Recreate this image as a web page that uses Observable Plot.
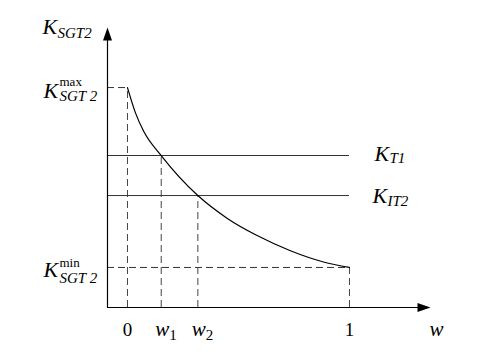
<!DOCTYPE html>
<html>
<head>
<meta charset="utf-8">
<script src="https://cdn.jsdelivr.net/npm/d3@7"></script>
<script src="https://cdn.jsdelivr.net/npm/@observablehq/plot@0.6"></script>
<style>
  html, body { margin: 0; padding: 0; background: #fff; }
  #chart svg { display: block; }
  #chart svg text { font-family: "Liberation Serif", "Times New Roman", "DejaVu Serif", serif !important; }
</style>
</head>
<body>
<div id="chart"></div>
<script>
// ---- data ----
const Kmax = 1.0;
const Kmin = 0.182;
const KT1 = 0.691;
const KIT2 = 0.509;
const w1 = 0.152;
const w2 = 0.317;
const curveW = [0, 0.036, 0.0735, 0.152, 0.317, 0.45, 0.584, 0.734, 0.883, 1.0];
const curveK = [1.0, 0.885, 0.80, 0.691, 0.509, 0.405, 0.327, 0.258, 0.207, 0.182];
const plainTickLabels = ["0", "1"];
const wTickSubs = ["1", "2"];
const xOrigin = -0.09;
const xMax = 1.365;
const yMax = 1.273;

const curve = curveW.map((w, i) => ({w, k: curveK[i]}));
const dropLines = [
  {x: 0, y: Kmax}, {x: w1, y: KT1}, {x: w2, y: KIT2}, {x: 1, y: Kmin}
];
const arrowHeads = [
  {x: xMax, y: 0, rot: 90},
  {x: xOrigin, y: yMax, rot: 0}
];
const arrowSymbol = {
  draw(context) {
    context.moveTo(0, 0);
    context.lineTo(4.5, 13);
    context.lineTo(-4.5, 13);
    context.closePath();
  }
};

const serif = "Liberation Serif, Times New Roman, serif";
const dash = "7,4";
const T = (data, text, o) => Plot.text(data, {
  x: "x", y: "y", text: () => text, fontFamily: serif,
  lineAnchor: "bottom", textAnchor: "start", fill: "black", ...o
});

const titleAnchor = [{x: xOrigin, y: yMax}];
const maxAnchor = [{x: xOrigin, y: Kmax}];
const minAnchor = [{x: xOrigin, y: Kmin}];
const t1Anchor = [{x: 1, y: KT1}];
const it2Anchor = [{x: 1, y: KIT2}];
const wAxisAnchor = [{x: xMax, y: 0}];
const plainTicks = [{x: 0, y: 0, t: plainTickLabels[0]}, {x: 1, y: 0, t: plainTickLabels[1]}];
const wTicks = [{x: w1, y: 0, s: wTickSubs[0]}, {x: w2, y: 0, s: wTickSubs[1]}];

const chart = Plot.plot({
  width: 480,
  height: 359,
  marginLeft: 107,
  marginRight: 50,
  marginTop: 27,
  marginBottom: 52,
  style: {background: "white", fontFamily: serif},
  x: {domain: [xOrigin, xMax], axis: null},
  y: {domain: [0, yMax], axis: null},
  marks: [
    // dashed guides
    Plot.ruleY([Kmax], {x1: xOrigin, x2: 0, stroke: "#333", strokeDasharray: dash}),
    Plot.ruleY([Kmin], {x1: xOrigin, x2: 1, stroke: "#333", strokeDasharray: dash}),
    Plot.ruleX(dropLines, {x: "x", y1: 0, y2: "y", stroke: "#444", strokeDasharray: dash}),
    // threshold lines
    Plot.ruleY([KT1, KIT2], {x1: xOrigin, x2: 1, stroke: "#333"}),
    // curve
    Plot.line(curve, {x: "w", y: "k", curve: "monotone-x", stroke: "black", strokeWidth: 1.2}),
    // axes
    Plot.ruleY([0], {x1: xOrigin, x2: xMax - 0.02, stroke: "black", strokeWidth: 1.2}),
    Plot.ruleX([xOrigin], {y1: 0, y2: yMax - 0.02, stroke: "black", strokeWidth: 1.2}),
    Plot.dot(arrowHeads, {x: "x", y: "y", rotate: "rot", symbol: arrowSymbol, fill: "black"}),
    // title
    T(titleAnchor, "K", {fontSize: 22, fontStyle: "italic", dx: -65, dy: 6}),
    T(titleAnchor, "SGT2", {fontSize: 15, fontStyle: "italic", dx: -50, dy: 10}),
    // K max
    T(maxAnchor, "K", {fontSize: 22, fontStyle: "italic", dx: -64, dy: 10}),
    T(maxAnchor, "max", {fontSize: 13, dx: -48, dy: -2}),
    T(maxAnchor, "SGT 2", {fontSize: 15, fontStyle: "italic", dx: -48, dy: 13}),
    // K min
    T(minAnchor, "K", {fontSize: 22, fontStyle: "italic", dx: -64, dy: 10}),
    T(minAnchor, "min", {fontSize: 13, dx: -48, dy: 0}),
    T(minAnchor, "SGT 2", {fontSize: 15, fontStyle: "italic", dx: -48, dy: 16}),
    // K T1 / K IT2
    T(t1Anchor, "K", {fontSize: 22, fontStyle: "italic", dx: 25, dy: 5}),
    T(t1Anchor, "T1", {fontSize: 15, fontStyle: "italic", dx: 40, dy: 7}),
    T(it2Anchor, "K", {fontSize: 22, fontStyle: "italic", dx: 23, dy: 7}),
    T(it2Anchor, "IT2", {fontSize: 15, fontStyle: "italic", dx: 38, dy: 10}),
    // x tick labels
    Plot.text(plainTicks, {x: "x", y: "y", text: "t", fontFamily: serif, fontSize: 19,
      lineAnchor: "bottom", textAnchor: "middle", dy: 28, fill: "black"}),
    Plot.text(wTicks, {x: "x", y: "y", text: () => "w", fontFamily: serif, fontSize: 21,
      fontStyle: "italic", lineAnchor: "bottom", textAnchor: "end", dx: 8, dy: 28, fill: "black"}),
    Plot.text(wTicks, {x: "x", y: "y", text: "s", fontFamily: serif, fontSize: 15,
      lineAnchor: "bottom", textAnchor: "start", dx: 8, dy: 32, fill: "black"}),
    T(wAxisAnchor, "w", {fontSize: 21, fontStyle: "italic", textAnchor: "middle", dx: 6, dy: 28})
  ]
});
document.getElementById("chart").appendChild(chart);
</script>
</body>
</html>
